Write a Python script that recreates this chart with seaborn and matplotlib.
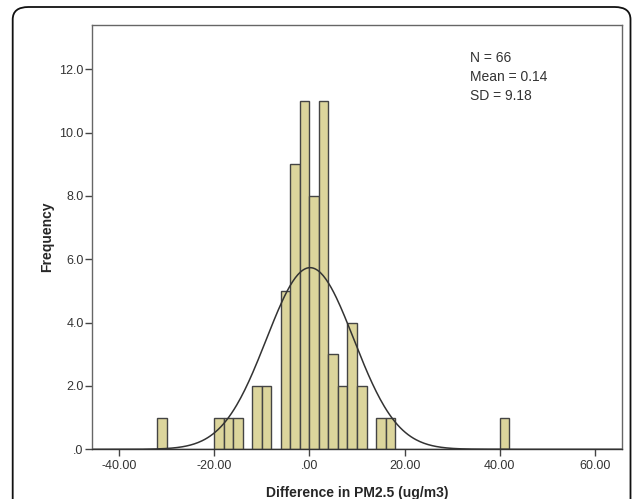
import numpy as np
import pandas as pd
import seaborn as sns
import matplotlib.pyplot as plt
from matplotlib.patches import FancyBboxPatch

# histogram bins (left edges, width 2) and counts
bin_left = [-32, -20, -18, -16, -12, -10, -6, -4, -2, 0, 2, 4, 6, 8, 10, 14, 16, 40]
counts = [1, 1, 1, 1, 2, 2, 5, 9, 11, 8, 11, 3, 2, 4, 2, 1, 1, 1]
bin_width = 2

# summary stats shown in the chart
n_obs = 66
mean_val = 0.14
sd_val = 9.18

x_ticks = [-40, -20, 0, 20, 40, 60]
x_ticklabels = ['-40.00', '-20.00', '.00', '20.00', '40.00', '60.00']
y_ticks = [0, 2, 4, 6, 8, 10, 12]
y_ticklabels = ['.0', '2.0', '4.0', '6.0', '8.0', '10.0', '12.0']

sns.set_theme(style='white')
plt.rcParams['font.family'] = ['Liberation Sans', 'DejaVu Sans']

df = pd.DataFrame({'diff': np.array(bin_left) + bin_width / 2, 'count': counts})

fig = plt.figure(figsize=(6.32, 4.99), dpi=100)
ax = fig.add_axes([92 / 632, 1 - 449.3 / 499, 530 / 632, 424.3 / 499])

sns.histplot(data=df, x='diff', weights='count', binwidth=bin_width,
             binrange=(-32, 42), color='#dcd59c', alpha=1,
             edgecolor='#444444', linewidth=1.0, ax=ax)

# fitted normal curve (SPSS style)
xs = np.linspace(-45.7, 65.7, 400)
ys = n_obs * bin_width * np.exp(-0.5 * ((xs - mean_val) / sd_val) ** 2) / (sd_val * np.sqrt(2 * np.pi))
sns.lineplot(x=xs, y=ys, color='#333333', linewidth=1.1, ax=ax)

ax.set_xlim(-45.7, 65.7)
ax.set_ylim(0, 13.4)
ax.set_xticks(x_ticks)
ax.set_xticklabels(x_ticklabels)
ax.set_yticks(y_ticks)
ax.set_yticklabels(y_ticklabels)
ax.tick_params(axis='both', which='both', direction='out', length=5, width=1,
               color='#444444', labelsize=9, labelcolor='#333333', pad=1,
               bottom=True, left=True)
ax.tick_params(axis='x', pad=3)
for s in ax.spines.values():
    s.set_color('#666666')
    s.set_linewidth(1)
ax.spines['bottom'].set_color('#333333')

ax.set_xlabel('Difference in PM2.5 (ug/m3)', fontsize=10, fontweight='bold', labelpad=10)
ax.set_ylabel('Frequency', fontsize=10, fontweight='bold', labelpad=4)

ax.text(470 / 632, 1 - 77 / 499, f'N = {n_obs}\nMean = {mean_val:.2f}\nSD = {sd_val:.2f}',
        transform=fig.transFigure, fontsize=10, color='#333333',
        va='center', ha='left', linespacing=1.45)

# rounded outer frame
frame = FancyBboxPatch((12.7 / 632, -0.1), (630.5 - 12.7) / 632, 0.1 + 1 - 7 / 499,
                       boxstyle='round,pad=0,rounding_size=0.025',
                       transform=fig.transFigure, fill=False,
                       edgecolor='#111111', linewidth=1.3, clip_on=False)
fig.patches.append(frame)

plt.savefig('out.png', dpi=100)
